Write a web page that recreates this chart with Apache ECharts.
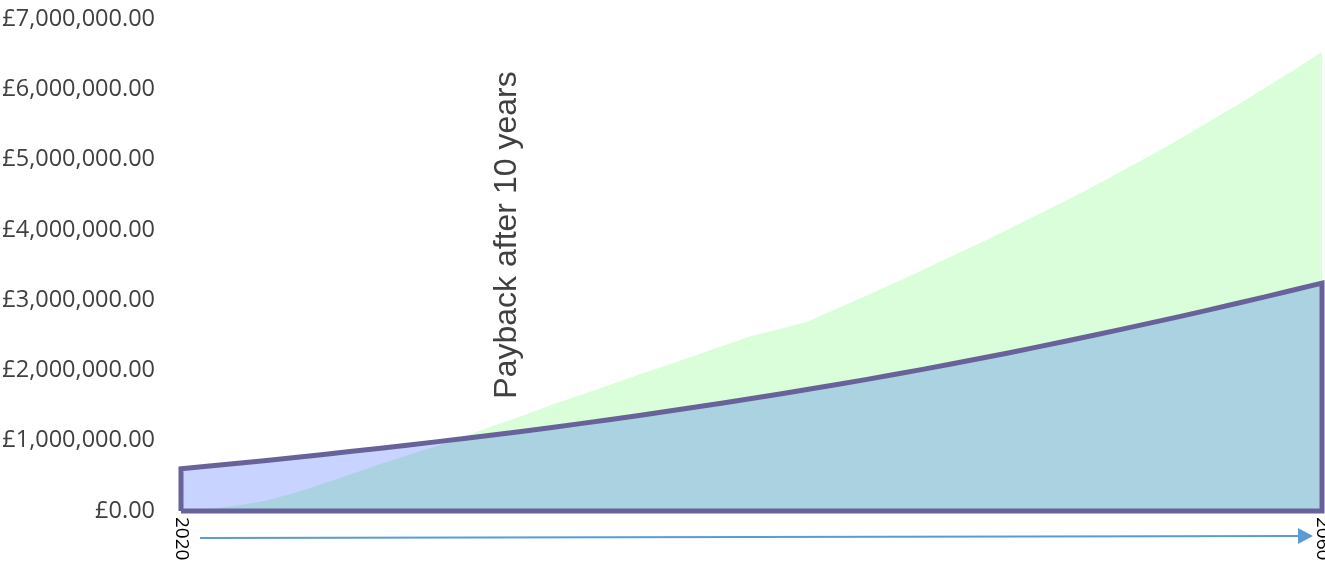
<!DOCTYPE html>
<html>
<head>
<meta charset="utf-8">
<script src="https://cdn.jsdelivr.net/npm/echarts@6/dist/echarts.min.js"></script>
<style>
  html, body { margin: 0; padding: 0; background: #ffffff; }
  #chart { width: 1325px; height: 562px; }
</style>
</head>
<body>
<div id="chart"></div>
<script>
// Years of the appraisal period
const years = [2020, 2021, 2022, 2023, 2024, 2025, 2026, 2027, 2028, 2029,
               2030, 2031, 2032, 2033, 2034, 2035, 2036, 2037, 2038, 2039,
               2040, 2041, 2042, 2043, 2044, 2045, 2046, 2047, 2048, 2049,
               2050, 2051, 2052, 2053, 2054, 2055, 2056, 2057, 2058, 2059, 2060];

// Cumulative savings (£)
const savings = [0, 30000, 80000, 150000, 260000, 390000, 530000, 670000, 800000, 930000,
                 1070000, 1220000, 1360000, 1510000, 1650000, 1790000, 1930000, 2070000, 2210000, 2350000,
                 2490000, 2590000, 2700000, 2880000, 3060000, 3240000, 3430000, 3620000, 3810000, 4010000,
                 4210000, 4410000, 4620000, 4840000, 5060000, 5290000, 5530000, 5770000, 6020000, 6270000,
                 6530000];

// Cumulative cost (£)
const cost = [600000, 639000, 679000, 720000, 762000, 805000, 849000, 894000, 940000, 987000,
              1035000, 1085000, 1136000, 1189000, 1243000, 1299000, 1356000, 1415000, 1475000, 1537000,
              1600000, 1665000, 1731000, 1799000, 1869000, 1941000, 2015000, 2091000, 2169000, 2249000,
              2331000, 2415000, 2500000, 2587000, 2676000, 2766000, 2858000, 2952000, 3047000, 3144000,
              3243000];

// Value-axis ticks
const yMax = 7000000;
const yStep = 1000000;
const annotation = 'Payback after 10 years';

function money(v) {
  const whole = Math.round(v).toString().replace(/\B(?=(\d{3})+(?!\d))/g, ',');
  return '£' + whole + '.00';
}

const first = years[0];
const last = years[years.length - 1];

const savingsData = years.map((y, i) => [y, savings[i]]);
// Cost region drawn as a closed outline: up the first year, along the curve,
// down the last year and back along the zero line.
const costData = [[first, 0]]
  .concat(years.map((y, i) => [y, cost[i]]))
  .concat([[last, 0], [first, 0]]);

const chart = echarts.init(document.getElementById('chart'), null, { renderer: 'canvas' });

chart.setOption({
  animation: false,
  backgroundColor: '#ffffff',
  grid: { left: 181, right: 3, top: 19, bottom: 51, containLabel: false, outerBoundsMode: 'none' },
  xAxis: {
    type: 'value',
    min: first,
    max: last,
    interval: last - first,
    axisLine: { show: false },
    axisTick: { show: false },
    splitLine: { show: false },
    axisLabel: {
      rotate: -90,
      margin: 6,
      showMinLabel: true,
      showMaxLabel: true,
      color: '#000000',
      fontFamily: 'Open Sans',
      fontSize: 19,
      formatter: v => String(v)
    }
  },
  yAxis: {
    type: 'value',
    min: 0,
    max: yMax,
    interval: yStep,
    axisLine: { show: false },
    axisTick: { show: false },
    splitLine: { show: false },
    axisLabel: {
      margin: 26,
      color: '#404040',
      fontFamily: 'Open Sans',
      fontSize: 23.5,
      formatter: v => money(v)
    }
  },
  series: [
    {
      name: 'Savings',
      type: 'line',
      data: savingsData,
      symbol: 'none',
      clip: false,
      z: 1,
      lineStyle: { width: 0 },
      areaStyle: { color: 'rgb(217,254,217)', opacity: 1 }
    },
    {
      name: 'Cost',
      type: 'line',
      data: costData,
      symbol: 'none',
      clip: false,
      z: 2,
      lineStyle: { color: '#67639a', width: 5, join: 'miter', cap: 'butt' },
      areaStyle: { color: 'rgba(0,45,255,0.21)', opacity: 1 }
    }
  ]
});

// Time arrow beneath the axis and the payback annotation
const pStart = chart.convertToPixel({ gridIndex: 0 }, [first, 0]);
const pEnd = chart.convertToPixel({ gridIndex: 0 }, [last, 0]);
const arrowX0 = pStart[0] + 19;
const arrowX1 = pEnd[0] - 9;
const arrowY0 = pStart[1] + 27;
const arrowY1 = pStart[1] + 25;

chart.setOption({
  graphic: [
    {
      type: 'line',
      shape: { x1: arrowX0, y1: arrowY0, x2: arrowX1 - 12, y2: arrowY1 },
      style: { stroke: '#5b9bd5', lineWidth: 2 },
      silent: true
    },
    {
      type: 'polygon',
      shape: { points: [[arrowX1 - 15, arrowY1 - 8], [arrowX1, arrowY1], [arrowX1 - 15, arrowY1 + 8]] },
      style: { fill: '#5b9bd5' },
      silent: true
    },
    {
      type: 'text',
      x: 507,
      y: 235,
      rotation: Math.PI / 2,
      style: {
        text: annotation,
        fill: '#404040',
        font: '32px "Liberation Sans", Arial, sans-serif',
        align: 'center',
        verticalAlign: 'middle'
      },
      silent: true
    }
  ]
});
</script>
</body>
</html>
